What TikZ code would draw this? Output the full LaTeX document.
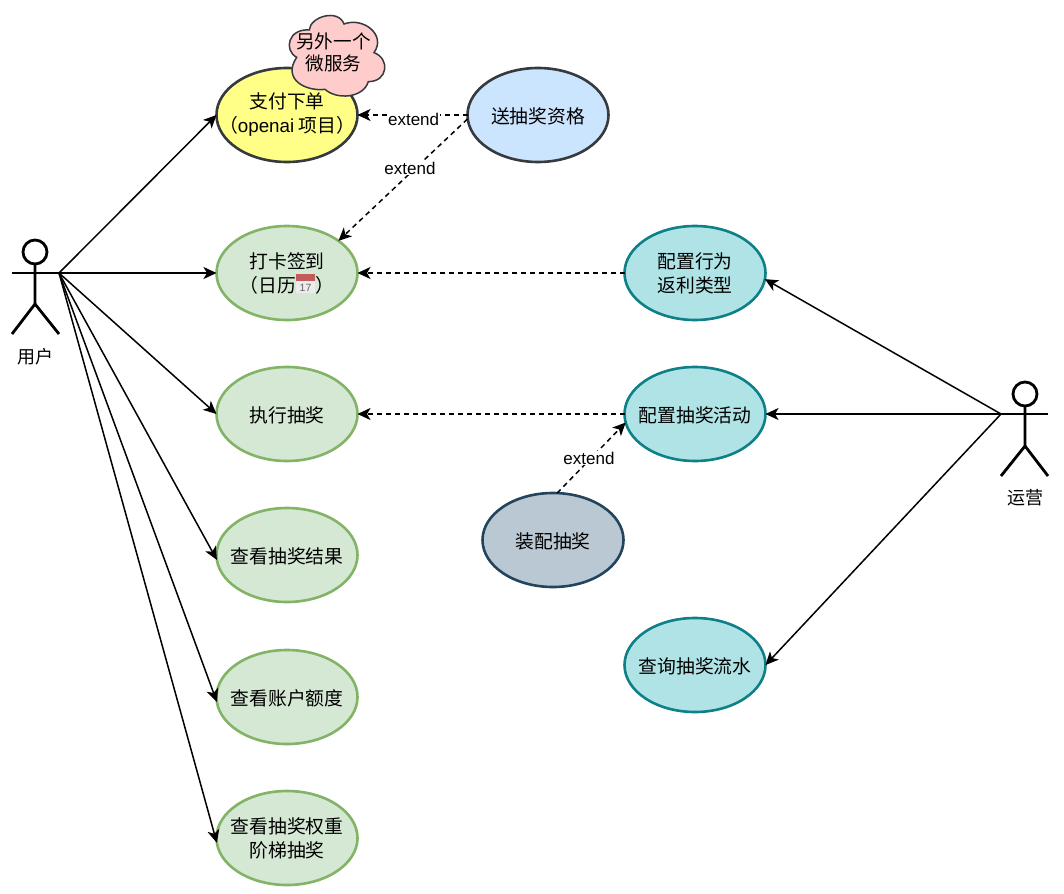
\documentclass[tikz,border=0pt]{standalone}
\usepackage{fontspec}
\setmainfont{Noto Sans CJK SC}
\newfontfamily\lat{Liberation Sans}
\usetikzlibrary{arrows.meta,shapes.geometric}
\definecolor{cyl}{HTML}{FFFF88}
\definecolor{cbl}{HTML}{CCE5FF}
\definecolor{cdk}{HTML}{36393D}
\definecolor{cgr}{HTML}{D5E8D4}
\definecolor{cgb}{HTML}{82B366}
\definecolor{ctl}{HTML}{B0E3E6}
\definecolor{ctb}{HTML}{0E8088}
\definecolor{csl}{HTML}{BAC8D3}
\definecolor{csb}{HTML}{23445D}
\definecolor{cpk}{HTML}{FFCCCC}
\definecolor{ccal}{HTML}{C25B5B}
\tikzset{
 x=1pt,y=-1pt,
 uc/.style={ellipse,draw,line width=2.6pt,minimum width=141pt,minimum height=94pt,inner xsep=-30pt,inner ysep=-10pt,outer sep=0pt,align=center,font=\fontsize{18.8}{24}\selectfont,execute at begin node={\rule{0pt}{19pt}}},
 ucgreen/.style={uc,draw=cgb,fill=cgr},
 ucteal/.style={uc,draw=ctb,fill=ctl},
 conn/.style={line width=1.5pt,-{Stealth[length=13pt,width=12pt,inset=3.5pt]}},
 dconn/.style={conn,dash pattern=on 5pt off 4pt},
 lab/.style={fill=white,inner sep=1pt,font=\lat\fontsize{17}{20}\selectfont},
 stick/.style={line width=2.8pt,draw=black},
 actorlabel/.style={font=\fontsize{18}{20}\selectfont,inner sep=0pt},
}
\begin{document}
\begin{tikzpicture}
\useasboundingbox (0,0) rectangle (1064,893);
\fill[white] (0,0) rectangle (1064,893);
% use cases
\node[uc,draw=cdk,fill=cyl] (pay) at (287,115) {支付下单\\（{\lat openai} 项目）};
\node[uc,draw=cdk,fill=cbl] (gift) at (538,115) {送抽奖资格};
\node[ucgreen] (sign) at (287,273) {打卡签到\\（日历\hspace{19pt}）};
\node[ucgreen] (draw) at (287,414) {执行抽奖};
\node[ucgreen] (result) at (287,555) {查看抽奖结果};
\node[ucgreen] (quota) at (287,697) {查看账户额度};
\node[ucgreen] (weight) at (287,838) {查看抽奖权重\\阶梯抽奖};
\node[ucteal] (rebate) at (695,273) {配置行为\\返利类型};
\node[ucteal] (activity) at (695,414) {配置抽奖活动};
\node[ucteal] (flow) at (695,665) {查询抽奖流水};
\node[uc,draw=csb,fill=csl] (armory) at (553,540) {装配抽奖};
% cloud
\begin{scope}[shift={(200,0)},x=0.3333pt,y=-0.3333pt]
\draw[draw=cdk,fill=cpk,line width=1.5pt]
 (290,172) .. controls (250,150) and (265,85) .. (328,90)
 .. controls (330,50) and (415,25) .. (432,72)
 .. controls (490,50) and (560,105) .. (522,158)
 .. controls (570,175) and (565,245) .. (505,245)
 .. controls (490,295) and (410,300) .. (375,268)
 .. controls (320,275) and (245,240) .. (290,172) -- cycle;
\end{scope}
\node[inner sep=0pt,align=center,font=\fontsize{18.6}{22}\selectfont] (svc) at (333.5,52.5) {另外一个\\微服务};
% calendar
\fill[rounded corners=0.6pt,fill=black!8] (296,274) rectangle (315,293);
\fill[fill=ccal] (296,274) rectangle (315,281);
\node[inner sep=0pt,text=black!60,font=\lat\fontsize{10.5}{11}\selectfont] (cal) at (305.5,287.5) {17};
% actors
\coordinate (ua) at (59,273);
\coordinate (oa) at (1001,414);
\draw[stick] (35,252) circle (12);
\draw[stick] (12,273) -- (ua);
\draw[stick] (35,264) -- (35,304) -- (12,334);
\draw[stick] (35,304) -- (59,334);
\node[actorlabel] (user) at (35,357) {用户};
\draw[stick] (1025,394) circle (12);
\draw[stick] (oa) -- (1048,414);
\draw[stick] (1025,406) -- (1025,446) -- (1001,476);
\draw[stick] (1025,446) -- (1048,476);
\node[actorlabel] (ops) at (1025,498) {运营};
% connectors
\draw[conn] (ua) -- (pay.west);
\draw[conn] (ua) -- (sign.west);
\draw[conn] (ua) -- (draw.west);
\draw[conn] (ua) -- (result.184);
\draw[conn] (ua) -- (quota.184);
\draw[conn] (ua) -- (weight.184);
\draw[conn] (oa) -- (rebate.-5);
\draw[conn] (oa) -- (activity.east);
\draw[conn] (oa) -- (flow.east);
\draw[dconn] (gift.west) -- node[lab,pos=.49,yshift=-4pt] (e1) {extend} (pay.east);
\draw[dconn] (gift.west) ++(0,4) coordinate (gs) -- (sign.32);
\node[lab] (e2) at (410,168) {extend};
\draw[dconn] (rebate.west) -- (sign.east);
\draw[dconn] (activity.west) -- (draw.east);
\draw[dconn] (armory.85) -- (activity.187);
\node[lab] (e3) at (589,458) {extend};
\end{tikzpicture}
\end{document}
